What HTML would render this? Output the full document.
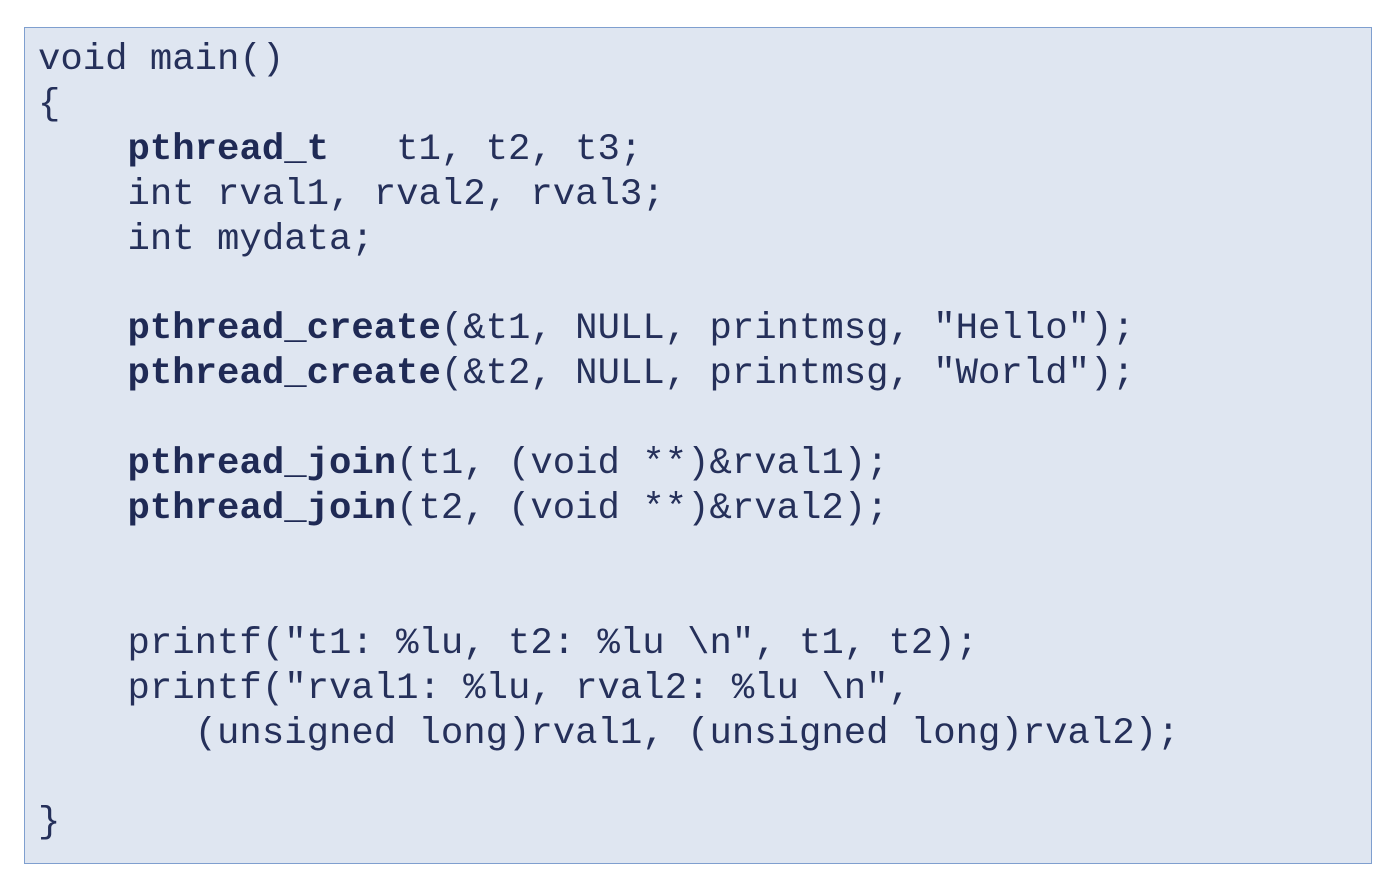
<!DOCTYPE html>
<html><head><style>
html,body{margin:0;padding:0;background:#fff;width:1390px;height:884px;overflow:hidden}
.box{position:absolute;left:24px;top:27px;width:1346px;height:835px;background:#dfe6f1;border:1.5px solid #7f9fcf}
pre{position:absolute;left:38px;top:38px;margin:0;font-family:"Liberation Mono",monospace;font-size:37.3px;line-height:44.9px;color:#25305a}
b{font-weight:bold;color:#1f2a55}
</style></head><body>
<div class="box"></div>
<pre>void main()
{
    <b>pthread_t</b>   t1, t2, t3;
    int rval1, rval2, rval3;
    int mydata;

    <b>pthread_create</b>(&amp;t1, NULL, printmsg, "Hello");
    <b>pthread_create</b>(&amp;t2, NULL, printmsg, "World");

    <b>pthread_join</b>(t1, (void **)&amp;rval1);
    <b>pthread_join</b>(t2, (void **)&amp;rval2);


    printf("t1: %lu, t2: %lu \n", t1, t2);
    printf("rval1: %lu, rval2: %lu \n",
       (unsigned long)rval1, (unsigned long)rval2);

}</pre>
</body></html>
